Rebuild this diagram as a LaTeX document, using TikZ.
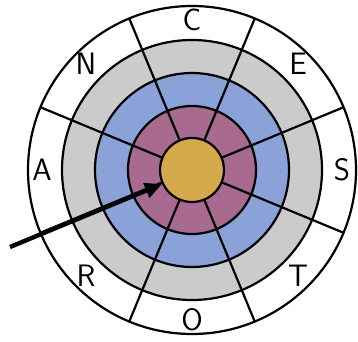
\documentclass[tikz,border=0pt]{standalone}
\usepackage{tikz}
\usetikzlibrary{arrows.meta}
\definecolor{ringgray}{HTML}{CBCBCB}
\definecolor{ringblue}{HTML}{8AA2D8}
\definecolor{ringpink}{HTML}{A86A8E}
\definecolor{ringgold}{HTML}{D4A84B}
\tikzset{
  letter/.style={font=\fontsize{31}{31}\selectfont\sffamily, inner sep=0pt},
  dart/.style={line width=4.4pt, -{Triangle[length=17pt, width=15pt]}}
}
\begin{document}
\begin{tikzpicture}[x=1pt, y=1pt, line width=2.2pt]
	\useasboundingbox (-192,-171) rectangle (166,170);
	% rings from outside in: radius / fill
	\foreach \r/\c in {164/white, 130/ringgray, 97/ringblue, 64/ringpink} {
		\filldraw[fill=\c, draw=black] (0,0) circle (\r);
	}
	% spokes between the sectors
	\foreach \a in {22.5,67.5,...,337.5} \draw (\a:32) -- (\a:164);
	\node[circle, draw, fill=ringgold, minimum size=64pt, inner sep=0pt] (bull) at (0,0) {};
	% one letter per outer sector
	\foreach \a/\lab in {90/C, 45/E, 0/S, -45/T, -90/O, -135/R, 180/A, 135/N} {
		\node[letter] (l\lab) at (\a:150) {\lab};
	}
	% the arrow hitting the centre
	\coordinate (tail) at (-182,-77);
	\draw[dart] (tail) -- (bull.205);
\end{tikzpicture}
\end{document}
